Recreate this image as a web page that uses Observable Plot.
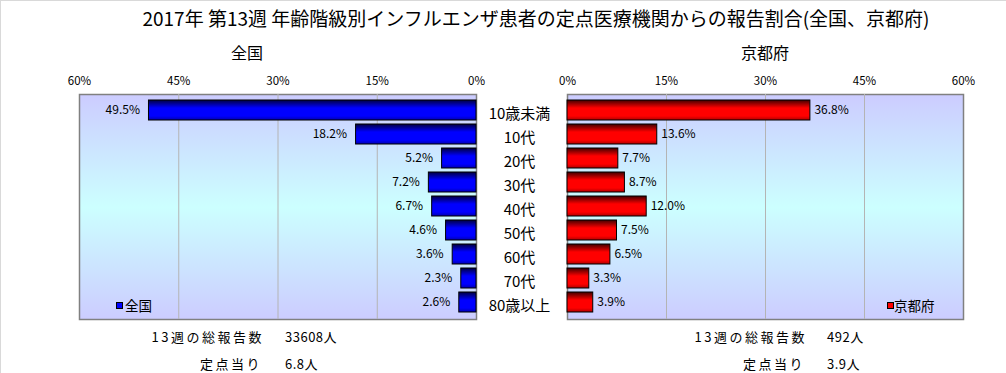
<!DOCTYPE html>
<html><head><meta charset="utf-8">
<script src="https://cdn.jsdelivr.net/npm/d3@7"></script>
<script src="https://cdn.jsdelivr.net/npm/@observablehq/plot@0.6"></script>
<style>
body{margin:0;background:#fff;font-family:"Noto Sans CJK JP",sans-serif;}
#wrap{position:relative;width:1006px;height:373px;overflow:hidden;background:#fff;}
.abs{position:absolute;white-space:nowrap;color:#000;line-height:1;}
.sq{position:absolute;width:5px;height:5px;border:1px solid #000;}
.lab{font-size:13px;letter-spacing:2.5px;text-align:right;}
.val{font-size:13px;letter-spacing:0.5px;}
</style></head><body>
<div id="wrap">
  <div class="abs" style="left:0;top:0;width:1006px;height:1px;background:#d9d9d9"></div>
  <div class="abs" style="left:0;top:0;width:1px;height:373px;background:#d9d9d9"></div>
  <div class="abs" id="title" style="left:536px;top:17px;transform:translate(-50%,-50%);font-size:19px;"></div>
  <div class="abs" id="tL" style="left:247px;top:52px;transform:translate(-50%,-50%);font-size:16px;"></div>
  <div class="abs" id="tR" style="left:765px;top:52px;transform:translate(-50%,-50%);font-size:16px;"></div>
  <div id="left" style="position:absolute;left:0;top:60px;width:560px;"></div>
  <div id="right" style="position:absolute;left:560px;top:60px;width:446px;"></div>
  <div class="sq" style="left:116px;top:302px;background:#0000ff"></div>
  <div class="abs" id="legL" style="left:125px;top:306px;transform:translateY(-50%);font-size:13.5px;"></div>
  <div class="sq" style="left:887px;top:302px;background:#ff0000"></div>
  <div class="abs" id="legR" style="left:894px;top:306px;transform:translateY(-50%);font-size:13.5px;"></div>
  <div class="abs lab" id="s1l" style="right:742px;top:336px;transform:translateY(-50%);"></div>
  <div class="abs val" id="s1v" style="left:285px;top:336px;transform:translateY(-50%);"></div>
  <div class="abs lab" id="s2l" style="right:744px;top:363px;transform:translateY(-50%);"></div>
  <div class="abs val" id="s2v" style="left:285px;top:363px;transform:translateY(-50%);"></div>
  <div class="abs lab" id="k1l" style="right:199px;top:336px;transform:translateY(-50%);"></div>
  <div class="abs val" id="k1v" style="left:827px;top:336px;transform:translateY(-50%);"></div>
  <div class="abs lab" id="k2l" style="right:201px;top:363px;transform:translateY(-50%);"></div>
  <div class="abs val" id="k2v" style="left:827px;top:363px;transform:translateY(-50%);"></div>
</div>
<script>
const title = "2017年 第13週 年齢階級別インフルエンザ患者の定点医療機関からの報告割合(全国、京都府)";
const panelTitles = ["全国", "京都府"];
const categories = ["10歳未満","10代","20代","30代","40代","50代","60代","70代","80歳以上"];
const national = [49.5, 18.2, 5.2, 7.2, 6.7, 4.6, 3.6, 2.3, 2.6];
const kyoto = [36.8, 13.6, 7.7, 8.7, 12.0, 7.5, 6.5, 3.3, 3.9];
const ticks = [0, 15, 30, 45, 60];
const summaryLabels = ["13週の総報告数", "定点当り"];
const nationalSummary = ["33608人", "6.8人"];
const kyotoSummary = ["492人", "3.9人"];

const set = (id, t) => document.getElementById(id).textContent = t;
set("title", title); set("tL", panelTitles[0]); set("tR", panelTitles[1]);
set("legL", panelTitles[0]); set("legR", panelTitles[1]);
set("s1l", summaryLabels[0]); set("s2l", summaryLabels[1]);
set("k1l", summaryLabels[0]); set("k2l", summaryLabels[1]);
set("s1v", nationalSummary[0]); set("s2v", nationalSummary[1]);
set("k1v", kyotoSummary[0]); set("k2v", kyotoSummary[1]);

function defs(id, dark, bright, low) {
  return () => {
    const d = d3.create("svg:defs");
    const g = d.append("linearGradient").attr("id", "bar" + id).attr("x1", 0).attr("y1", 0).attr("x2", 0).attr("y2", 1);
    [[0, dark], [0.4, bright], [0.8, bright], [1, low]].forEach(([o, c]) => g.append("stop").attr("offset", o).attr("stop-color", c));
    const b = d.append("linearGradient").attr("id", "bg" + id).attr("x1", 0).attr("y1", 0).attr("x2", 0).attr("y2", 1);
    [[0, "#ccccff"], [0.5, "#ccffff"], [1, "#ccccff"]].forEach(([o, c]) => b.append("stop").attr("offset", o).attr("stop-color", c));
    return d.node();
  };
}

function panel(values, id, isLeft, colors) {
  const rows = categories.map((c, i) => ({cat: c, value: values[i]}));
  const marks = [
    defs(id, ...colors),
    Plot.frame({fill: `url(#bg${id})`, stroke: "#808080", strokeWidth: 1.5}),
    Plot.gridX(ticks.slice(1, 4), {stroke: "#b4b4b4", strokeOpacity: 1}),
    Plot.barX(rows, {x: "value", y: "cat", fill: `url(#bar${id})`, stroke: "#000", strokeWidth: 1}),
    Plot.text(rows, {x: "value", y: "cat", text: d => d.value.toFixed(1) + "%",
      textAnchor: isLeft ? "end" : "start", dx: isLeft ? -9 : 4, fontSize: 12, fill: "#000"}),
    Plot.axisX({anchor: "top", ticks, tickSize: 0, tickPadding: 10, tickFormat: d => d + "%", fontSize: 11.5})
  ];
  if (isLeft) marks.push(Plot.axisY({anchor: "right", tickSize: 0, tickPadding: 0, dx: 43, dy: 4, textAnchor: "middle", fontSize: 15}));
  return Plot.plot({
    width: isLeft ? 560 : 446,
    height: 270,
    marginTop: 34,
    marginBottom: 11,
    marginLeft: isLeft ? 79 : 7,
    marginRight: isLeft ? 84 : 43,
    style: {background: "transparent", overflow: "visible", fontFamily: "'Noto Sans CJK JP', sans-serif", color: "#000"},
    x: {domain: [0, 60], reverse: isLeft, label: null},
    y: {domain: categories, padding: 0.16, label: null, axis: null},
    marks
  });
}

document.getElementById("left").append(panel(national, "L", true, ["#000040", "#0000ff", "#0000b0"]));
document.getElementById("right").append(panel(kyoto, "R", false, ["#400000", "#ff0000", "#b00000"]));
</script>
</body></html>
